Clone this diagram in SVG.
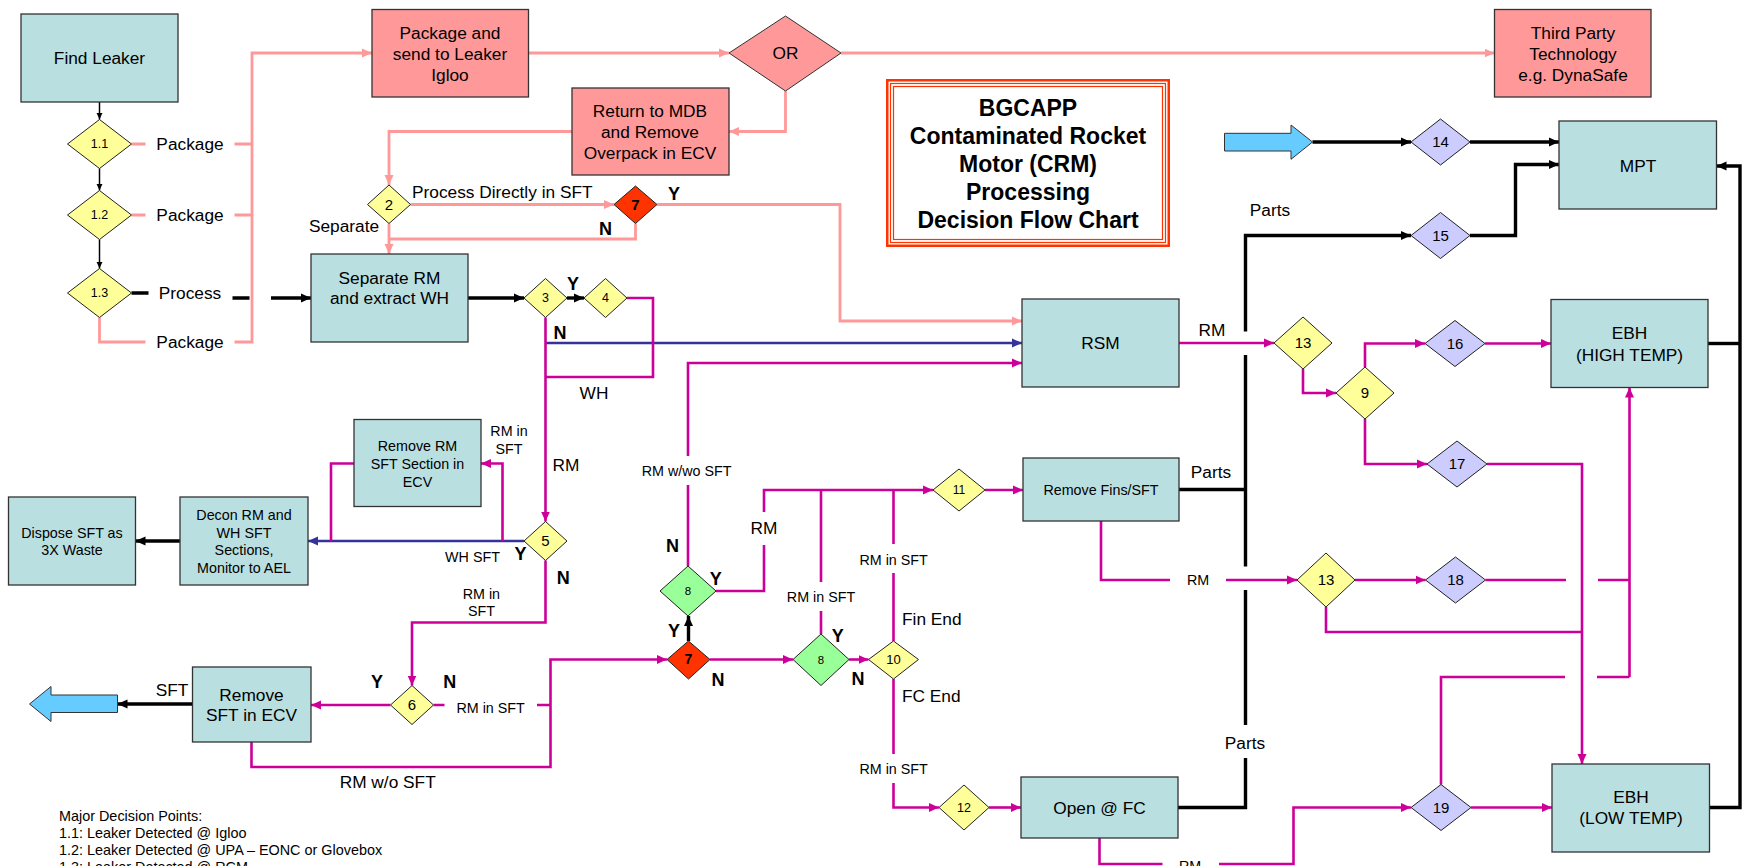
<svg xmlns="http://www.w3.org/2000/svg" width="1743" height="866" viewBox="0 0 1743 866">
<style>
text{font-family:"Liberation Sans",Arial,sans-serif;fill:#000}
.c{text-anchor:middle}
.f17{font-size:17.3px}
.f14{font-size:14.3px}
.yn{font-size:18px;font-weight:bold}
.box{fill:#B9DFE1;stroke:#333;stroke-width:1.3}
.pbox{fill:#FF9999;stroke:#333;stroke-width:1.3}
.dy{fill:#FFFF99;stroke:#222;stroke-width:1}
.dp{fill:#CCCCFF;stroke:#222;stroke-width:1}
.dg{fill:#99FF99;stroke:#222;stroke-width:1}
.dr{fill:#FF3300;stroke:#222;stroke-width:1}
.lp{fill:none;stroke:#FF9999;stroke-width:2.8}
.lm{fill:none;stroke:#CC0099;stroke-width:2.6}
.lb{fill:none;stroke:#333399;stroke-width:2.6}
.lk{fill:none;stroke:#000;stroke-width:3.4}
.lk1{fill:none;stroke:#000;stroke-width:1.5}
.blk{fill:#66CCFF;stroke:#333;stroke-width:1}
</style>
<defs>
<marker id="ap" viewBox="0 0 10 10" refX="10" refY="5" markerWidth="10" markerHeight="10" markerUnits="userSpaceOnUse" orient="auto"><path d="M0,0.5 L10,5 L0,9.5 z" fill="#FF9999"/></marker>
<marker id="am" viewBox="0 0 10 10" refX="10" refY="5" markerWidth="10" markerHeight="10" markerUnits="userSpaceOnUse" orient="auto"><path d="M0,0.5 L10,5 L0,9.5 z" fill="#CC0099"/></marker>
<marker id="ab" viewBox="0 0 10 10" refX="10" refY="5" markerWidth="10" markerHeight="10" markerUnits="userSpaceOnUse" orient="auto"><path d="M0,0.5 L10,5 L0,9.5 z" fill="#333399"/></marker>
<marker id="ak" viewBox="0 0 10 10" refX="10" refY="5" markerWidth="10" markerHeight="10" markerUnits="userSpaceOnUse" orient="auto"><path d="M0,0.5 L10,5 L0,9.5 z" fill="#000"/></marker>
<marker id="ak1" viewBox="0 0 10 10" refX="10" refY="5" markerWidth="7" markerHeight="7" markerUnits="userSpaceOnUse" orient="auto"><path d="M0,0.5 L10,5 L0,9.5 z" fill="#000"/></marker>
</defs>

<g id="connectors">
<!-- pink -->
<path class="lp" d="M131.5,144 H145.5 M234.5,144 H252 M131.5,215 H145.5 M234.5,215 H252 M99.5,317.5 V342 H145.5"/>
<path class="lp" d="M234.5,342 H252 V53 H372" marker-end="url(#ap)"/>
<path class="lp" d="M528.5,53 H729" marker-end="url(#ap)"/>
<path class="lp" d="M841,53 H1494.5" marker-end="url(#ap)"/>
<path class="lp" d="M785.5,91 V131.5 H729" marker-end="url(#ap)"/>
<path class="lp" d="M572,131.5 H389 V185" marker-end="url(#ap)"/>
<path class="lp" d="M410.5,204.5 H614" marker-end="url(#ap)"/>
<path class="lp" d="M657,204.5 H840 V321 H1022" marker-end="url(#ap)"/>
<path class="lp" d="M389,223.5 V254" marker-end="url(#ap)"/>
<path class="lp" d="M389,239 H635.5 V223.5"/>
<!-- black -->
<path class="lk1" d="M99.5,102 V119.5" marker-end="url(#ak1)"/>
<path class="lk1" d="M99.5,168.5 V190.5" marker-end="url(#ak1)"/>
<path class="lk1" d="M99.5,239.5 V268.5" marker-end="url(#ak1)"/>
<path class="lk" d="M131.5,293 H148.5 M232.5,298 H249.5"/>
<path class="lk" d="M271,298 H311" marker-end="url(#ak)"/>
<path class="lk" d="M468,298 H524" marker-end="url(#ak)"/>
<path class="lk" d="M567,298 H584" marker-end="url(#ak)"/>
<path class="lk" d="M688.5,641 V616" marker-end="url(#ak)"/>
<path class="lk" d="M180,541 H135.5" marker-end="url(#ak)"/>
<path class="lk" d="M192.5,704 H117.5" marker-end="url(#ak)"/>
<path class="lk" d="M1312.5,142 H1411" marker-end="url(#ak)"/>
<path class="lk" d="M1470,142 H1559" marker-end="url(#ak)"/>
<path class="lk" d="M1245.5,331.5 V235.5 H1411" marker-end="url(#ak)"/>
<path class="lk" d="M1245.5,355 V566.5 M1179,489.5 H1245.5 M1245.5,590 V725 M1245.5,758 V807.5 H1178"/>
<path class="lk" d="M1470,235.5 H1515.5 V164.5 H1559" marker-end="url(#ak)"/>
<path class="lk" d="M1709.5,807.5 H1740 V166 H1716.5" marker-end="url(#ak)"/>
<path class="lk" d="M1708,343.5 H1740"/>
<!-- blue -->
<path class="lb" d="M546,343 H1022" marker-end="url(#ab)"/>
<path class="lb" d="M524,541 H308" marker-end="url(#ab)"/>
<!-- magenta -->
<path class="lm" d="M627,298 H653 V377 H545.5"/>
<path class="lm" d="M545.5,317.5 V521.5" marker-end="url(#am)"/>
<path class="lm" d="M502.5,541 V463.5 H481" marker-end="url(#am)"/>
<path class="lm" d="M354,463.5 H331 V541"/>
<path class="lm" d="M545.5,560.5 V622.5 H412 V685.5" marker-end="url(#am)"/>
<path class="lm" d="M390.5,705 H311" marker-end="url(#am)"/>
<path class="lm" d="M433.5,705 H444.5 M537,705 H550.5"/>
<path class="lm" d="M251.5,742 V767 H550.5 V659.5 H667" marker-end="url(#am)"/>
<path class="lm" d="M710,659.5 H793" marker-end="url(#am)"/>
<path class="lm" d="M849,659.5 H868.5" marker-end="url(#am)"/>
<path class="lm" d="M688,566 V485"/>
<path class="lm" d="M688,456 V363 H1022" marker-end="url(#am)"/>
<path class="lm" d="M716,591 H764 V545"/>
<path class="lm" d="M764,512 V490 H933" marker-end="url(#am)"/>
<path class="lm" d="M821,490 V582 M821,611 V634 M893.5,490 V544 M893.5,573 V641 M893.5,679 V754"/>
<path class="lm" d="M893.5,783 V807.5 H939" marker-end="url(#am)"/>
<path class="lm" d="M989,807.5 H1021" marker-end="url(#am)"/>
<path class="lm" d="M985,490 H1023" marker-end="url(#am)"/>
<path class="lm" d="M1179,343 H1274" marker-end="url(#am)"/>
<path class="lm" d="M1303,369 V393 H1336" marker-end="url(#am)"/>
<path class="lm" d="M1365,367 V343.5 H1425" marker-end="url(#am)"/>
<path class="lm" d="M1365,419 V464 H1427" marker-end="url(#am)"/>
<path class="lm" d="M1485,343.5 H1551" marker-end="url(#am)"/>
<path class="lm" d="M1487,464 H1582 V764" marker-end="url(#am)"/>
<path class="lm" d="M1355,580 H1425.5" marker-end="url(#am)"/>
<path class="lm" d="M1326,607 V632 H1582 M1485.5,580 H1566 M1598,580 H1629.5"/>
<path class="lm" d="M1629.5,677 V387.5" marker-end="url(#am)"/>
<path class="lm" d="M1441,784.5 V677 H1565 M1597,677 H1629.5"/>
<path class="lm" d="M1471,807.5 H1552" marker-end="url(#am)"/>
<path class="lm" d="M1101,521 V580 H1170"/>
<path class="lm" d="M1226,580 H1297" marker-end="url(#am)"/>
<path class="lm" d="M1099.5,838 V864 H1162.5"/>
<path class="lm" d="M1219,864 H1293.5 V807.5 H1411" marker-end="url(#am)"/>
</g>

<g id="labels">
<text class="c f17" x="190" y="150">Package</text>
<text class="c f17" x="190" y="221">Package</text>
<text class="c f17" x="190" y="299">Process</text>
<text class="c f17" x="190" y="348">Package</text>
<text class="f17" x="412" y="198">Process Directly in SFT</text>
<text class="c f17" x="344" y="232">Separate</text>
<text class="c yn" x="674" y="199.5">Y</text>
<text class="c yn" x="605.5" y="234.5">N</text>
<text class="c yn" x="573" y="289.5">Y</text>
<text class="c yn" x="560" y="338.5">N</text>
<text class="c f17" x="594" y="399">WH</text>
<text class="c f17" x="566" y="471">RM</text>
<text class="c f14" x="509" y="436">RM in</text>
<text class="c f14" x="509" y="454">SFT</text>
<text class="c f14" x="472.5" y="561.7">WH SFT</text>
<text class="c yn" x="520.5" y="559.5">Y</text>
<text class="c yn" x="563.3" y="583.8">N</text>
<text class="c f14" x="481.4" y="599">RM in</text>
<text class="c f14" x="481.4" y="616">SFT</text>
<text class="c yn" x="377" y="688">Y</text>
<text class="c yn" x="449.7" y="688">N</text>
<text class="c f14" x="490.6" y="712.7">RM in SFT</text>
<text class="c f17" x="172" y="696">SFT</text>
<text class="c f17" x="387.7" y="787.7">RM w/o SFT</text>
<text class="c f14" x="686.6" y="476">RM w/wo SFT</text>
<text class="c yn" x="672.5" y="551.5">N</text>
<text class="c yn" x="715.7" y="584.5">Y</text>
<text class="c f17" x="764" y="534">RM</text>
<text class="c yn" x="674" y="636.5">Y</text>
<text class="c yn" x="718" y="685.5">N</text>
<text class="c f14" x="821" y="602">RM in SFT</text>
<text class="c f14" x="893.6" y="565">RM in SFT</text>
<text class="c f14" x="893.6" y="774">RM in SFT</text>
<text class="c yn" x="837.8" y="641.5">Y</text>
<text class="c yn" x="858" y="684.5">N</text>
<text class="f17" x="902" y="625">Fin End</text>
<text class="f17" x="902" y="702">FC End</text>
<text class="c f17" x="1212" y="336">RM</text>
<text class="c f17" x="1270" y="216">Parts</text>
<text class="c f17" x="1211" y="478">Parts</text>
<text class="c f17" x="1245" y="749">Parts</text>
<text class="c f14" x="1198" y="585">RM</text>
<text class="c f14" x="1190" y="871">RM</text>
</g>

<g id="legend">
<text style="font-size:14.4px" x="59" y="821">Major Decision Points:</text>
<text style="font-size:14.4px" x="59" y="838">1.1: Leaker Detected @ Igloo</text>
<text style="font-size:14.4px" x="59" y="855">1.2: Leaker Detected @ UPA – EONC or Glovebox</text>
<text style="font-size:14.4px" x="59" y="872">1.3: Leaker Detected @ RCM</text>
</g>

<g id="title">
<rect x="887.25" y="80.25" width="281.5" height="165.5" fill="#fff" stroke="#FF3300" stroke-width="2.5"/>
<rect x="890.5" y="83.5" width="275" height="159" fill="none" stroke="#FF3300" stroke-width="1.2"/>
<rect x="893.5" y="86.5" width="269" height="153" fill="none" stroke="#FF3300" stroke-width="1.2"/>
<text class="c" style="font-size:23px;font-weight:bold" x="1028" y="116">BGCAPP</text>
<text class="c" style="font-size:23px;font-weight:bold" x="1028" y="144">Contaminated Rocket</text>
<text class="c" style="font-size:23px;font-weight:bold" x="1028" y="172">Motor (CRM)</text>
<text class="c" style="font-size:23px;font-weight:bold" x="1028" y="200">Processing</text>
<text class="c" style="font-size:23px;font-weight:bold" x="1028" y="228">Decision Flow Chart</text>
</g>

<g id="find-leaker"><rect class="box" x="21" y="14" width="157" height="88"/><text class="c f17" x="99.5" y="64">Find Leaker</text></g>
<g id="d1-1"><polygon class="dy" points="67.5,144 99.5,119.5 131.5,144 99.5,168.5"/><text class="c" style="font-size:12.5px" x="99.5" y="148.4">1.1</text></g>
<g id="d1-2"><polygon class="dy" points="67.5,215 99.5,190.5 131.5,215 99.5,239.5"/><text class="c" style="font-size:12.5px" x="99.5" y="219.4">1.2</text></g>
<g id="d1-3"><polygon class="dy" points="67.5,293 99.5,268.5 131.5,293 99.5,317.5"/><text class="c" style="font-size:12.5px" x="99.5" y="297.4">1.3</text></g>
<g id="package-send"><rect class="pbox" x="372" y="9.5" width="156.5" height="87.5"/><text class="c f17" x="450" y="39">Package and</text><text class="c f17" x="450" y="60">send to Leaker</text><text class="c f17" x="450" y="81">Igloo</text></g>
<g id="or"><polygon class="pbox" points="729,53 785.5,16 841,53 785.5,91" style="stroke-width:1"/><text class="c f17" x="785.5" y="59">OR</text></g>
<g id="return-mdb"><rect class="pbox" x="572" y="88" width="157" height="87"/><text class="c f17" x="650" y="117">Return to MDB</text><text class="c f17" x="650" y="138">and Remove</text><text class="c f17" x="650" y="159">Overpack in ECV</text></g>
<g id="third-party"><rect class="pbox" x="1494.5" y="9.5" width="156.5" height="87.5"/><text class="c f17" x="1573" y="39">Third Party</text><text class="c f17" x="1573" y="60">Technology</text><text class="c f17" x="1573" y="81">e.g. DynaSafe</text></g>
<g id="d2"><polygon class="dy" points="367.5,204.5 389,185 410.5,204.5 389,223.5"/><text class="c" style="font-size:15px" x="389" y="209.8">2</text></g>
<g id="d7a"><polygon class="dr" points="614,204.5 635.5,186 657,204.5 635.5,223.5"/><text class="c" style="font-size:15px;font-weight:bold" x="635.5" y="209.8">7</text></g>
<g id="separate-rm"><rect class="box" x="311" y="254" width="157" height="88"/><text class="c f17" x="389.5" y="284">Separate RM</text><text class="c f17" x="389.5" y="304">and extract WH</text></g>
<g id="d3"><polygon class="dy" points="524,298 545.5,278.5 567,298 545.5,317.5"/><text class="c" style="font-size:12.5px" x="545.5" y="302.4">3</text></g>
<g id="d4"><polygon class="dy" points="584,298 605.5,278.5 627,298 605.5,317.5"/><text class="c" style="font-size:12.5px" x="605.5" y="302.4">4</text></g>
<g id="rsm"><rect class="box" x="1022" y="299" width="157" height="88"/><text class="c f17" x="1100.5" y="349">RSM</text></g>
<g id="blue-arrow-in"><polygon class="blk" points="1224.5,133.3 1291,133.3 1291,125 1312.5,142 1291,159.3 1291,151 1224.5,151"/></g>
<g id="d14"><polygon class="dp" points="1411,142 1440.5,119 1470,142 1440.5,165"/><text class="c" style="font-size:15px" x="1440.5" y="147.3">14</text></g>
<g id="d15"><polygon class="dp" points="1411,235.5 1440.5,212.5 1470,235.5 1440.5,258.5"/><text class="c" style="font-size:15px" x="1440.5" y="240.8">15</text></g>
<g id="mpt"><rect class="box" x="1559" y="121" width="157.5" height="88"/><text class="c f17" x="1638" y="171.7">MPT</text></g>
<g id="ebh-high"><rect class="box" x="1551" y="299.5" width="157" height="88"/><text class="c f17" x="1629.5" y="339.3">EBH</text><text class="c f17" x="1629.5" y="361.3">(HIGH TEMP)</text></g>
<g id="d13a"><polygon class="dy" points="1274,343 1303,317 1332,343 1303,369"/><text class="c" style="font-size:15px" x="1303" y="348.3">13</text></g>
<g id="d9"><polygon class="dy" points="1336,393 1365,367 1394,393 1365,419"/><text class="c" style="font-size:15px" x="1365" y="398.3">9</text></g>
<g id="d16"><polygon class="dp" points="1425,343.5 1455,320.5 1485,343.5 1455,366.5"/><text class="c" style="font-size:15px" x="1455" y="348.8">16</text></g>
<g id="d17"><polygon class="dp" points="1427,464 1457,441 1487,464 1457,487"/><text class="c" style="font-size:15px" x="1457" y="469.3">17</text></g>
<g id="remove-rm-sft"><rect class="box" x="354" y="419.5" width="127" height="87"/><text class="c f14" x="417.5" y="451">Remove RM</text><text class="c f14" x="417.5" y="469">SFT Section in</text><text class="c f14" x="417.5" y="487">ECV</text></g>
<g id="decon"><rect class="box" x="180" y="497" width="128" height="88"/><text class="c f14" x="244" y="520">Decon RM and</text><text class="c f14" x="244" y="538">WH SFT</text><text class="c f14" x="244" y="555">Sections,</text><text class="c f14" x="244" y="573">Monitor to AEL</text></g>
<g id="dispose"><rect class="box" x="8.5" y="497" width="127" height="88"/><text class="c f14" x="72" y="538">Dispose SFT as</text><text class="c f14" x="72" y="554.5">3X Waste</text></g>
<g id="d5"><polygon class="dy" points="524,541 545.5,521.5 567,541 545.5,560.5"/><text class="c" style="font-size:15px" x="545.5" y="546.3">5</text></g>
<g id="d6"><polygon class="dy" points="390.5,705 412,685.5 433.5,705 412,724.5"/><text class="c" style="font-size:15px" x="412" y="710.3">6</text></g>
<g id="remove-sft-ecv"><rect class="box" x="192.5" y="667" width="118.5" height="75"/><text class="c f17" x="251.5" y="701">Remove</text><text class="c f17" x="251.5" y="720.5">SFT in ECV</text></g>
<g id="blue-arrow-out"><polygon class="blk" points="29.5,704 51,686.5 51,695 117.5,695 117.5,712.5 51,712.5 51,721.5"/></g>
<g id="d8a"><polygon class="dg" points="660,591 688,566 716,591 688,616"/><text class="c" style="font-size:11.5px" x="688" y="595">8</text></g>
<g id="d7b"><polygon class="dr" points="667,659.5 688.5,641 710,659.5 688.5,679"/><text class="c" style="font-size:14px;font-weight:bold" x="688.5" y="664.4">7</text></g>
<g id="d8b"><polygon class="dg" points="793,659.5 821,634 849,659.5 821,685.5"/><text class="c" style="font-size:11.5px" x="821" y="663.5">8</text></g>
<g id="d10"><polygon class="dy" points="868.5,659.5 893.5,641 918.5,659.5 893.5,679"/><text class="c" style="font-size:13px" x="893.5" y="664">10</text></g>
<g id="d11"><polygon class="dy" points="933,490 959,469 985,490 959,511"/><text class="c" style="font-size:12px" x="959" y="494.2">11</text></g>
<g id="remove-fins"><rect class="box" x="1023" y="458" width="156" height="63"/><text class="c f14" x="1101" y="495">Remove Fins/SFT</text></g>
<g id="d12"><polygon class="dy" points="939,807.5 964,785 989,807.5 964,830"/><text class="c" style="font-size:12.5px" x="964" y="811.9">12</text></g>
<g id="open-fc"><rect class="box" x="1021" y="777" width="157" height="61"/><text class="c f17" x="1099.5" y="814">Open @ FC</text></g>
<g id="d13b"><polygon class="dy" points="1297,580 1326,553 1355,580 1326,607"/><text class="c" style="font-size:15px" x="1326" y="585.3">13</text></g>
<g id="d18"><polygon class="dp" points="1425.5,580 1455.5,557 1485.5,580 1455.5,603"/><text class="c" style="font-size:15px" x="1455.5" y="585.3">18</text></g>
<g id="d19"><polygon class="dp" points="1411,807.5 1441,784.5 1471,807.5 1441,830.5"/><text class="c" style="font-size:15px" x="1441" y="812.8">19</text></g>
<g id="ebh-low"><rect class="box" x="1552" y="764" width="157.5" height="88"/><text class="c f17" x="1631" y="803.3">EBH</text><text class="c f17" x="1631" y="824.3">(LOW TEMP)</text></g>
</svg>
